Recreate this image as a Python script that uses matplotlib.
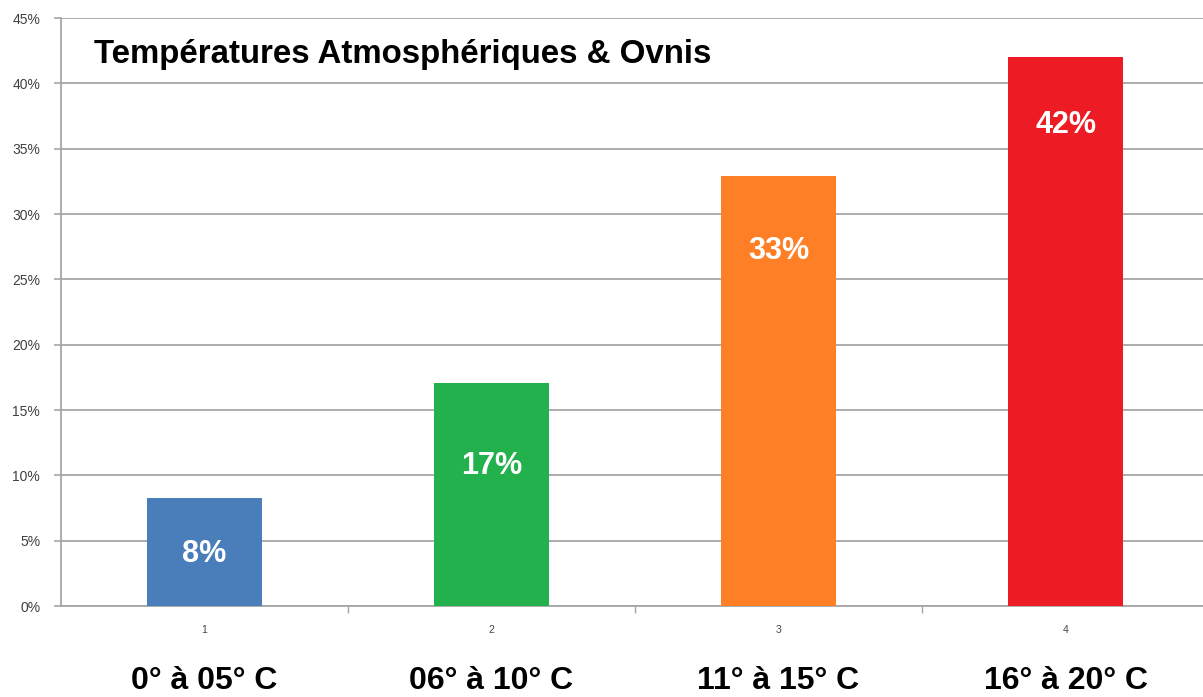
import matplotlib
matplotlib.use("Agg")
import matplotlib.pyplot as plt
from matplotlib.ticker import FuncFormatter, MultipleLocator
import matplotlib.transforms as mtransforms

# ---- data ----
categories = ["1", "2", "3", "4"]
temp_labels = ["0° à 05° C", "06° à 10° C", "11° à 15° C", "16° à 20° C"]
values = [8.3, 17.1, 32.9, 42.0]
value_labels = ["8%", "17%", "33%", "42%"]
label_y = [4.0, 10.7, 27.2, 36.8]
colors = ["#4A7EBB", "#22B14C", "#FF7F27", "#ED1C24"]
title = "Températures Atmosphériques & Ovnis"

plt.rcParams['font.family'] = ['Liberation Sans', 'DejaVu Sans']

fig = plt.figure(figsize=(12.03, 6.97), dpi=100)
ax = fig.add_axes([61/1203, 1-606/697, (1209-61)/1203, (606-18)/697])

x = list(range(len(categories)))
ax.bar(x, values, width=0.4, color=colors, zorder=3)

ax.set_xlim(-0.5, len(categories) - 0.5)
ax.set_ylim(0, 45)
ax.yaxis.set_major_locator(MultipleLocator(5))
ax.yaxis.set_major_formatter(FuncFormatter(lambda v, p: f"{int(round(v))}%"))
ax.grid(axis='y', color='#A6A6A6', linewidth=1.3, zorder=0)
ax.set_axisbelow(True)

for s in ['top', 'right']:
    ax.spines[s].set_visible(False)
for s in ['left', 'bottom']:
    ax.spines[s].set_color('#A6A6A6')
    ax.spines[s].set_linewidth(1.3)

ax.tick_params(axis='y', colors='#A6A6A6', labelcolor='#404040', labelsize=10,
               length=5, width=1.2, pad=10)
# x: category ticks between bars (minor), labels at centres
ax.set_xticks(x)
ax.set_xticklabels(categories, fontsize=7.5, color='#444444')
ax.tick_params(axis='x', which='major', length=0, pad=14)
ax.set_xticks([i + 0.5 for i in x], minor=True)
ax.tick_params(axis='x', which='minor', length=5, width=1.0, colors='#A6A6A6')

for xi, ly, lab in zip(x, label_y, value_labels):
    ax.text(xi, ly, lab, ha='center', va='center', color='white',
            fontsize=22, fontweight='bold', zorder=4)

trans = mtransforms.blended_transform_factory(ax.transData, ax.transAxes)
for xi, t in zip(x, temp_labels):
    ax.text(xi, -0.127, t, transform=trans, ha='center', va='center',
            fontsize=23, fontweight='bold', color='black')

ax.text(94/1203, 1-55/697, title, transform=fig.transFigure, ha='left', va='center',
        fontsize=23.8, fontweight='bold', color='black')

fig.savefig("out.png", dpi=100)
